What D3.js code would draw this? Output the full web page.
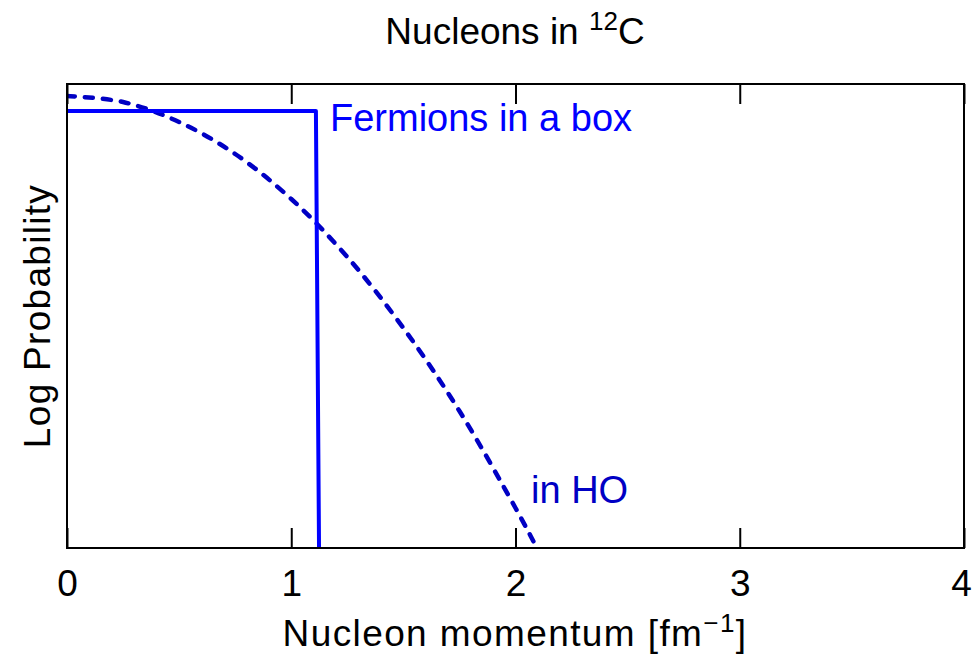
<!DOCTYPE html>
<html>
<head>
<meta charset="utf-8">
<script src="https://cdn.jsdelivr.net/npm/d3@7"></script>
<style>
  body { margin: 0; background: #fff; }
  text { font-family: "Liberation Sans", Arial, sans-serif; }
</style>
</head>
<body>
<div id="chart"></div>
<script>
// momentum values (fm^-1) and log probability (arbitrary units)
const hoMomentum = [0, 0.25, 0.5, 0.75, 1.0, 1.25, 1.5, 1.75, 2.0, 2.1, 2.2];
const hoLogProb  = [-0.12, -0.18, -0.38, -0.70, -1.15, -1.73, -2.44, -3.27, -4.24, -4.66, -5.1];

const boxMomentum = [0, 1.11, 1.125];
const boxLogProb  = [-0.27, -0.27, -5.0];

const xTicks = [0, 1, 2, 3, 4];

const width = 972, height = 659;
const margin = { left: 67, right: 8, top: 84, bottom: 111 };

const svg = d3.select("#chart").append("svg")
    .attr("width", width)
    .attr("height", height);

const x = d3.scaleLinear().domain([0, 4]).range([margin.left, width - margin.right]);
const y = d3.scaleLinear().domain([-4.64, 0]).range([height - margin.bottom, margin.top]);

svg.append("clipPath").attr("id", "plot-clip")
  .append("rect")
    .attr("x", x(0)).attr("y", y(0))
    .attr("width", x(4) - x(0)).attr("height", y(-4.64) - y(0));

const line = d3.line().x(d => x(d[0])).y(d => y(d[1]));

const plot = svg.append("g").attr("clip-path", "url(#plot-clip)");

// harmonic oscillator curve (dashed)
plot.append("path")
    .datum(hoMomentum.map((p, i) => [p, hoLogProb[i]]))
    .attr("d", d3.line().x(d => x(d[0])).y(d => y(d[1])).curve(d3.curveCatmullRom))
    .attr("fill", "none")
    .attr("stroke", "#0000c4")
    .attr("stroke-width", 4.5)
    .attr("stroke-linecap", "round")
    .attr("stroke-dasharray", "8,10");

// fermions in a box (solid)
plot.append("path")
    .datum(boxMomentum.map((p, i) => [p, boxLogProb[i]]))
    .attr("d", line)
    .attr("fill", "none")
    .attr("stroke", "#0000ff")
    .attr("stroke-width", 4)
    .attr("stroke-linejoin", "round");

// frame
svg.append("rect")
    .attr("x", x(0)).attr("y", y(0))
    .attr("width", x(4) - x(0)).attr("height", y(-4.64) - y(0))
    .attr("fill", "none")
    .attr("stroke", "#000")
    .attr("stroke-width", 2);

// bottom axis with inward ticks
const bottomAxis = svg.append("g")
    .attr("transform", `translate(0,${y(-4.64)})`)
    .call(d3.axisBottom(x).tickValues(xTicks).tickFormat(d3.format("d"))
        .tickSizeInner(-20).tickSizeOuter(0).tickPadding(22));
bottomAxis.select(".domain").remove();
bottomAxis.selectAll("line").attr("stroke-width", 2);
bottomAxis.selectAll("text").attr("font-size", 37).attr("fill", "#000")
    .attr("font-family", "Liberation Sans, Arial, sans-serif")
    .attr("dx", d => d === 4 ? -3 : 0);

// top ticks
const topAxis = svg.append("g")
    .attr("transform", `translate(0,${y(0)})`)
    .call(d3.axisTop(x).tickValues(xTicks).tickFormat("")
        .tickSizeInner(-20).tickSizeOuter(0));
topAxis.select(".domain").remove();
topAxis.selectAll("line").attr("stroke-width", 2);

// labels
svg.append("text")
    .attr("x", 330).attr("y", 131)
    .attr("font-size", 38).attr("fill", "#0000ff")
    .text("Fermions in a box");

svg.append("text")
    .attr("x", 531).attr("y", 503)
    .attr("font-size", 38).attr("fill", "#0000c4")
    .text("in HO");

const title = svg.append("text")
    .attr("x", 515).attr("y", 44)
    .attr("text-anchor", "middle")
    .attr("font-size", 37).attr("fill", "#000");
title.append("tspan").text("Nucleons in ");
title.append("tspan").attr("font-size", 26).attr("dy", -14).text("12");
title.append("tspan").attr("dy", 14).text("C");

const xl = svg.append("text")
    .attr("x", 515).attr("y", 646)
    .attr("text-anchor", "middle")
    .attr("letter-spacing", 1.4)
    .attr("font-size", 37).attr("fill", "#000");
xl.append("tspan").text("Nucleon momentum [fm");
xl.append("tspan").attr("font-size", 26).attr("dy", -14).text("\u22121");
xl.append("tspan").attr("dy", 14).text("]");

svg.append("text")
    .attr("transform", `translate(50,${(y(0) + y(-4.64)) / 2}) rotate(-90)`)
    .attr("text-anchor", "middle")
    .attr("letter-spacing", 1.3)
    .attr("font-size", 37).attr("fill", "#000")
    .text("Log Probability");
</script>
</body>
</html>
